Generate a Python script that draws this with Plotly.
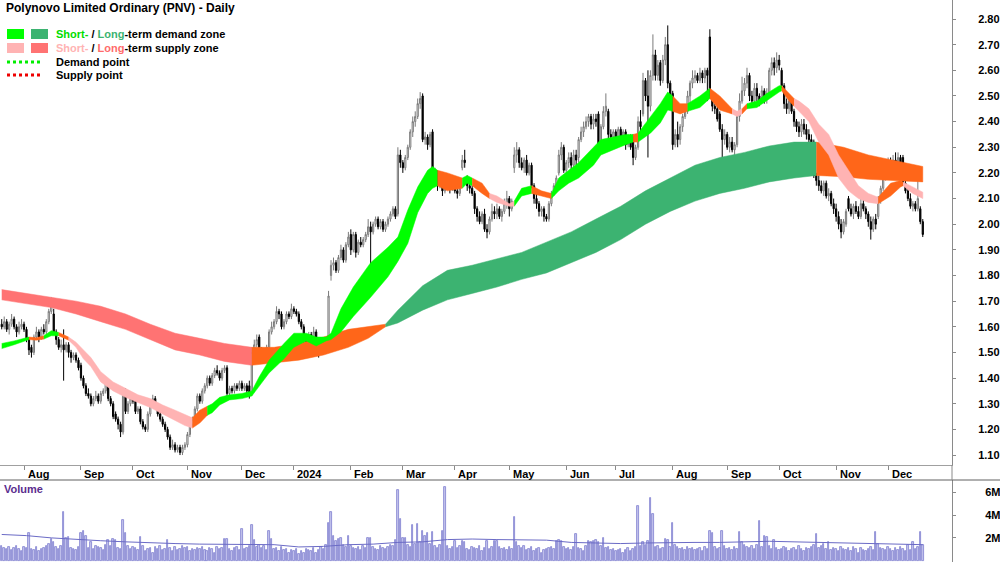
import plotly.graph_objects as go
import pandas as pd

# ---------------- data ----------------
start_date = "2023-07-19"

closes = [
1.60,1.62,1.59,1.61,1.63,1.60,1.58,1.60,1.61,1.59,
1.55,1.51,1.50,1.56,1.58,1.56,1.59,1.58,1.62,1.66,
1.69,1.58,1.55,1.52,1.53,1.51,1.53,1.50,1.48,1.49,
1.47,1.44,1.40,1.37,1.34,1.33,1.30,1.32,1.33,1.31,
1.34,1.35,1.38,1.32,1.30,1.25,1.24,1.22,1.19,1.33,
1.27,1.30,1.32,1.31,1.27,1.28,1.23,1.21,1.20,1.26,
1.30,1.32,1.29,1.26,1.24,1.22,1.20,1.17,1.13,1.14,
1.12,1.13,1.11,1.13,1.14,1.18,1.22,1.24,1.28,1.33,
1.31,1.35,1.37,1.40,1.38,1.41,1.43,1.42,1.40,1.43,
1.44,1.34,1.36,1.35,1.37,1.36,1.38,1.36,1.37,1.35,
1.33,1.50,1.53,1.55,1.51,1.48,1.50,1.52,1.58,1.60,
1.62,1.66,1.65,1.60,1.62,1.65,1.64,1.67,1.66,1.65,
1.62,1.60,1.55,1.53,1.57,1.55,1.58,1.52,1.50,1.53,
1.54,1.53,1.72,1.84,1.85,1.82,1.87,1.90,1.86,1.92,
1.95,1.90,1.96,1.89,1.93,1.92,1.94,1.96,1.99,1.97,
2.00,2.02,1.99,2.01,1.98,2.00,2.02,2.04,2.06,2.03,
2.27,2.24,2.22,2.26,2.30,2.36,2.40,2.42,2.47,2.49,
2.33,2.34,2.31,2.35,2.18,2.20,2.15,2.18,2.13,2.17,
2.15,2.14,2.16,2.13,2.12,2.14,2.25,2.24,2.15,2.14,
2.12,2.06,2.03,2.01,2.04,1.98,1.97,2.02,2.05,2.04,
2.06,2.03,2.05,2.08,2.10,2.06,2.09,2.27,2.29,2.24,
2.22,2.25,2.20,2.23,2.15,2.10,2.08,2.05,2.06,2.03,
2.02,2.08,2.12,2.15,2.18,2.27,2.30,2.21,2.24,2.26,
2.23,2.27,2.25,2.33,2.36,2.38,2.40,2.42,2.39,2.41,
2.40,2.31,2.38,2.44,2.46,2.35,2.34,2.36,2.33,2.37,
2.33,2.36,2.31,2.34,2.30,2.26,2.30,2.40,2.38,2.56,
2.50,2.46,2.58,2.66,2.58,2.62,2.56,2.64,2.70,2.55,
2.50,2.31,2.35,2.33,2.38,2.42,2.44,2.50,2.55,2.57,
2.58,2.56,2.59,2.57,2.60,2.58,2.50,2.46,2.45,2.41,
2.37,2.33,2.35,2.30,2.32,2.29,2.31,2.42,2.48,2.52,
2.55,2.58,2.50,2.48,2.53,2.50,2.48,2.52,2.49,2.51,
2.60,2.63,2.61,2.64,2.62,2.54,2.47,2.45,2.48,2.44,
2.40,2.38,2.36,2.39,2.37,2.35,2.33,2.31,2.19,2.17,
2.15,2.13,2.16,2.11,2.12,2.08,2.06,2.03,2.00,1.97,
2.01,2.05,2.06,2.04,2.07,2.05,2.03,2.08,2.06,2.04,
2.01,1.98,2.02,2.00,2.10,2.14,2.19,2.21,2.24,2.22,
2.25,2.23,2.26,2.24,2.16,2.13,2.10,2.07,2.08,2.06,2.10,2.01,1.96]

opens = [
1.61,1.60,1.62,1.59,1.61,1.63,1.60,1.58,1.60,1.61,
1.59,1.55,1.52,1.50,1.56,1.58,1.56,1.59,1.58,1.62,
1.66,1.65,1.58,1.55,1.52,1.53,1.51,1.53,1.50,1.48,
1.49,1.47,1.45,1.40,1.37,1.34,1.33,1.30,1.32,1.33,
1.31,1.34,1.35,1.38,1.32,1.30,1.26,1.24,1.22,1.19,
1.35,1.27,1.30,1.32,1.31,1.27,1.28,1.23,1.21,1.20,
1.26,1.30,1.32,1.29,1.26,1.24,1.22,1.20,1.17,1.13,
1.14,1.12,1.13,1.11,1.13,1.14,1.18,1.22,1.24,1.28,
1.33,1.31,1.35,1.37,1.40,1.38,1.41,1.43,1.42,1.40,
1.43,1.44,1.34,1.36,1.35,1.37,1.36,1.38,1.36,1.37,
1.37,1.34,1.50,1.53,1.56,1.51,1.48,1.50,1.52,1.58,
1.60,1.62,1.66,1.65,1.60,1.62,1.65,1.64,1.67,1.66,
1.65,1.62,1.60,1.55,1.53,1.57,1.55,1.58,1.53,1.50,
1.53,1.54,1.56,1.80,1.84,1.85,1.82,1.87,1.90,1.86,
1.92,1.96,1.90,1.96,1.89,1.93,1.92,1.94,1.96,1.99,
1.97,2.00,2.02,1.99,2.01,1.98,2.00,2.02,2.04,2.06,
2.04,2.27,2.24,2.22,2.26,2.30,2.36,2.40,2.42,2.47,
2.50,2.33,2.34,2.31,2.36,2.18,2.20,2.15,2.18,2.13,
2.17,2.15,2.14,2.16,2.13,2.12,2.22,2.25,2.18,2.15,
2.14,2.12,2.06,2.03,2.01,2.04,1.98,1.97,2.02,2.05,
2.04,2.06,2.03,2.05,2.08,2.10,2.06,2.22,2.27,2.29,
2.24,2.22,2.25,2.20,2.23,2.15,2.10,2.08,2.05,2.06,
2.03,2.02,2.08,2.12,2.15,2.20,2.27,2.30,2.21,2.24,
2.26,2.23,2.27,2.26,2.33,2.36,2.38,2.40,2.42,2.39,
2.41,2.43,2.31,2.38,2.44,2.44,2.35,2.34,2.36,2.33,
2.37,2.33,2.36,2.31,2.34,2.34,2.26,2.30,2.40,2.43,
2.56,2.50,2.46,2.58,2.66,2.58,2.63,2.56,2.64,2.70,
2.55,2.51,2.31,2.35,2.33,2.38,2.42,2.44,2.50,2.55,
2.57,2.58,2.56,2.59,2.57,2.60,2.73,2.50,2.46,2.45,
2.43,2.37,2.33,2.35,2.30,2.32,2.29,2.31,2.42,2.48,
2.52,2.55,2.58,2.50,2.48,2.53,2.50,2.48,2.52,2.49,
2.51,2.60,2.63,2.61,2.64,2.60,2.54,2.47,2.45,2.48,
2.44,2.40,2.38,2.36,2.39,2.37,2.35,2.33,2.32,2.19,
2.17,2.15,2.13,2.16,2.11,2.12,2.08,2.06,2.03,2.00,
1.97,2.00,2.10,2.06,2.04,2.07,2.05,2.03,2.08,2.06,
2.04,2.01,1.98,2.02,2.03,2.10,2.14,2.19,2.21,2.24,
2.22,2.25,2.23,2.26,2.26,2.16,2.13,2.10,2.07,2.08,2.06,2.06,2.01]

highs = [
1.63,1.64,1.63,1.62,1.65,1.64,1.61,1.62,1.63,1.62,
1.60,1.56,1.53,1.57,1.60,1.59,1.60,1.61,1.63,1.67,
1.715,1.67,1.59,1.56,1.55,1.59,1.54,1.54,1.51,1.50,
1.50,1.48,1.46,1.41,1.38,1.36,1.34,1.33,1.35,1.34,
1.35,1.36,1.39,1.39,1.33,1.31,1.27,1.25,1.23,1.34,
1.36,1.31,1.33,1.33,1.32,1.29,1.29,1.24,1.22,1.27,
1.31,1.335,1.33,1.30,1.27,1.25,1.23,1.21,1.18,1.16,
1.15,1.14,1.14,1.14,1.15,1.19,1.23,1.25,1.29,1.34,
1.34,1.36,1.38,1.41,1.41,1.42,1.44,1.45,1.43,1.44,
1.45,1.45,1.37,1.37,1.38,1.38,1.39,1.39,1.38,1.38,
1.39,1.52,1.55,1.57,1.57,1.52,1.51,1.53,1.59,1.62,
1.63,1.68,1.67,1.66,1.63,1.66,1.66,1.69,1.68,1.67,
1.66,1.63,1.61,1.56,1.58,1.58,1.60,1.59,1.54,1.54,
1.56,1.56,1.74,1.86,1.87,1.86,1.88,1.92,1.91,1.93,
1.97,1.98,1.97,1.97,1.94,1.95,1.95,1.97,2.02,2.01,
2.01,2.03,2.03,2.02,2.02,2.01,2.03,2.05,2.07,2.07,
2.30,2.29,2.25,2.27,2.31,2.37,2.42,2.44,2.49,2.515,
2.51,2.36,2.35,2.36,2.37,2.22,2.21,2.19,2.20,2.18,
2.18,2.17,2.17,2.17,2.14,2.15,2.27,2.29,2.19,2.16,
2.15,2.13,2.07,2.05,2.05,2.06,2.00,2.03,2.08,2.07,
2.08,2.07,2.06,2.10,2.13,2.11,2.10,2.30,2.32,2.30,
2.26,2.26,2.27,2.24,2.24,2.16,2.12,2.09,2.07,2.07,
2.04,2.09,2.13,2.16,2.19,2.29,2.32,2.31,2.25,2.28,
2.28,2.29,2.29,2.34,2.38,2.40,2.42,2.43,2.43,2.43,
2.43,2.44,2.39,2.46,2.51,2.45,2.37,2.37,2.37,2.38,
2.38,2.37,2.37,2.35,2.35,2.35,2.31,2.42,2.445,2.59,
2.57,2.60,2.60,2.74,2.68,2.64,2.64,2.66,2.73,2.775,
2.56,2.52,2.37,2.40,2.39,2.43,2.46,2.52,2.56,2.60,
2.60,2.59,2.61,2.60,2.61,2.61,2.76,2.51,2.47,2.46,
2.44,2.39,2.37,2.36,2.34,2.34,2.32,2.43,2.51,2.575,
2.57,2.61,2.59,2.52,2.55,2.55,2.51,2.54,2.53,2.53,
2.61,2.65,2.65,2.67,2.66,2.61,2.55,2.49,2.49,2.49,
2.45,2.41,2.40,2.41,2.41,2.39,2.37,2.35,2.33,2.20,
2.19,2.17,2.17,2.17,2.14,2.13,2.10,2.08,2.05,2.02,
2.02,2.06,2.11,2.08,2.08,2.09,2.07,2.10,2.10,2.07,
2.05,2.03,2.03,2.04,2.11,2.15,2.21,2.23,2.26,2.26,
2.27,2.28,2.28,2.27,2.27,2.17,2.15,2.12,2.09,2.09,2.21,2.07,2.02]

lows = [
1.59,1.59,1.58,1.57,1.60,1.59,1.56,1.57,1.59,1.58,
1.54,1.49,1.48,1.49,1.55,1.54,1.55,1.57,1.57,1.61,
1.65,1.57,1.53,1.51,1.50,1.39,1.50,1.48,1.46,1.47,
1.46,1.43,1.39,1.36,1.33,1.32,1.29,1.29,1.31,1.30,
1.30,1.33,1.34,1.31,1.29,1.24,1.23,1.20,1.17,1.18,
1.26,1.26,1.29,1.30,1.26,1.26,1.22,1.20,1.19,1.19,
1.25,1.29,1.28,1.25,1.23,1.21,1.19,1.16,1.12,1.12,
1.11,1.11,1.10,1.10,1.12,1.13,1.17,1.21,1.23,1.27,
1.30,1.30,1.34,1.36,1.37,1.37,1.40,1.41,1.39,1.39,
1.42,1.33,1.33,1.34,1.34,1.35,1.35,1.35,1.35,1.34,
1.32,1.33,1.49,1.52,1.50,1.46,1.47,1.49,1.51,1.57,
1.59,1.61,1.63,1.59,1.59,1.61,1.63,1.63,1.65,1.64,
1.61,1.59,1.52,1.52,1.52,1.54,1.54,1.51,1.48,1.49,
1.52,1.51,1.55,1.78,1.82,1.81,1.81,1.86,1.85,1.85,
1.91,1.88,1.89,1.87,1.88,1.91,1.91,1.93,1.95,1.82,
1.96,1.99,1.98,1.98,1.97,1.97,1.99,2.01,2.03,2.02,
2.03,2.22,2.20,2.21,2.25,2.29,2.34,2.38,2.41,2.45,
2.32,2.31,2.29,2.30,2.17,2.16,2.13,2.14,2.11,2.12,
2.14,2.12,2.13,2.12,2.10,2.11,2.21,2.22,2.13,2.12,
2.11,2.04,2.01,2.00,2.00,1.97,1.945,1.96,2.01,2.02,
2.02,2.02,2.01,2.04,2.06,2.03,2.05,2.20,2.24,2.22,
2.21,2.20,2.19,2.19,2.14,2.08,2.06,2.03,2.03,2.01,
2.01,2.01,2.07,2.11,2.14,2.19,2.25,2.20,2.20,2.22,
2.21,2.22,2.23,2.24,2.32,2.34,2.37,2.38,2.37,2.37,
2.38,2.27,2.30,2.37,2.42,2.33,2.32,2.32,2.32,2.32,
2.32,2.31,2.29,2.30,2.29,2.23,2.25,2.29,2.36,2.42,
2.48,2.26,2.44,2.56,2.56,2.56,2.54,2.55,2.62,2.53,
2.48,2.29,2.30,2.30,2.31,2.36,2.41,2.43,2.46,2.53,
2.55,2.55,2.55,2.55,2.55,2.48,2.49,2.44,2.43,2.40,
2.36,2.22,2.31,2.29,2.28,2.28,2.27,2.30,2.40,2.47,
2.50,2.53,2.48,2.46,2.47,2.48,2.46,2.47,2.47,2.47,
2.50,2.58,2.58,2.59,2.60,2.53,2.45,2.43,2.43,2.43,
2.38,2.36,2.34,2.34,2.35,2.33,2.32,2.29,2.18,2.15,
2.13,2.12,2.11,2.10,2.09,2.07,2.04,2.01,1.98,1.945,
1.96,1.99,2.05,2.03,2.02,2.04,2.02,2.02,2.05,2.02,
1.99,1.94,1.97,1.98,2.02,2.08,2.13,2.17,2.20,2.20,
2.21,2.21,2.22,2.22,2.15,2.12,2.09,2.06,2.05,2.05,2.05,2.00,1.95]

volume_m = [
1.3,1.1,1.0,1.2,0.9,1.1,1.3,1.0,0.8,1.2,
1.1,2.4,1.0,0.9,1.2,0.8,1.0,1.1,1.3,1.5,
1.9,1.6,1.2,1.0,1.3,4.3,2.0,2.1,1.1,1.0,
0.9,1.2,2.4,2.6,2.2,1.1,1.6,1.0,1.3,1.2,
1.1,0.9,1.4,1.8,1.3,1.9,1.8,1.1,1.0,3.6,
2.4,1.3,1.0,1.2,1.1,0.9,2.1,1.3,0.8,1.0,
1.1,0.7,1.2,1.0,1.3,0.9,1.0,1.8,1.1,0.8,
1.2,0.9,1.0,1.3,1.1,1.2,0.8,1.0,0.9,1.1,
1.0,1.2,0.9,0.8,1.1,1.0,0.7,1.2,1.0,1.1,
1.9,1.9,1.0,0.8,1.1,1.2,0.9,2.8,1.0,1.1,
1.3,3.1,1.8,1.2,1.4,1.1,1.3,0.9,2.6,1.9,
1.0,1.1,0.8,1.2,0.9,1.0,0.7,0.9,0.8,1.0,
0.6,0.8,0.7,1.0,0.9,0.8,1.1,0.7,0.9,1.2,
1.0,1.4,3.3,4.3,2.2,1.7,1.9,2.0,1.4,1.2,
2.2,1.3,1.1,1.0,1.2,0.9,1.3,1.1,2.0,2.0,
1.2,1.0,0.9,1.3,1.1,1.0,1.2,1.4,1.3,1.8,
6.2,3.7,2.0,2.0,1.4,1.2,3.1,1.5,3.2,1.6,
2.6,2.2,2.4,1.5,2.5,1.3,1.1,1.4,2.6,6.5,
1.3,1.0,1.2,1.7,1.1,1.3,1.7,1.6,1.0,0.9,
1.2,1.1,1.0,1.3,0.8,1.1,1.7,1.0,1.2,1.7,
1.7,1.2,1.0,1.1,0.9,1.2,1.0,3.8,1.6,1.3,
1.1,1.3,0.9,1.0,1.2,0.8,1.0,1.1,0.7,0.9,
1.0,1.1,1.2,1.0,1.7,1.8,1.7,1.2,1.0,1.1,
0.9,1.2,2.3,1.1,1.0,0.8,1.3,1.7,1.6,1.7,
1.8,1.6,1.3,2.0,1.1,1.2,0.9,1.0,0.8,0.9,
1.0,0.7,0.9,1.1,0.8,1.0,1.2,4.8,1.3,1.6,
1.4,1.7,5.5,4.1,1.2,1.3,1.0,1.1,1.9,1.8,
1.2,3.3,1.4,1.2,1.0,1.1,0.9,1.2,1.0,1.1,
0.9,1.0,1.1,0.8,1.2,1.0,2.6,2.4,1.2,1.0,
1.1,2.6,1.3,1.0,1.1,0.9,1.2,1.0,2.5,1.6,
1.4,1.2,1.1,1.3,1.0,1.4,3.5,1.2,2.2,2.1,
1.3,1.0,1.8,1.1,0.9,1.0,1.2,1.1,0.8,1.0,
1.1,0.9,1.3,1.0,0.8,1.1,1.0,1.2,1.4,2.3,
1.1,1.3,1.5,1.0,1.6,0.9,1.1,1.0,0.8,1.2,
1.0,0.9,1.1,0.8,1.2,1.0,0.7,1.1,0.9,0.8,
1.0,1.2,0.9,2.5,1.5,1.1,1.0,0.9,1.2,1.0,
0.8,1.1,0.9,1.2,1.0,0.8,1.4,0.9,1.6,1.0,1.2,2.5,1.4]

# volume average line (read at sampled days)
vol_avg_idx = [0,10,20,30,40,50,60,70,80,90,100,110,120,130,140,150,160,170,180,190,
               200,210,220,230,240,250,260,270,280,290,300,310,320,330,340,350,360,372]
vol_avg_m = [2.3,2.2,2.0,1.85,1.75,1.65,1.55,1.5,1.45,1.45,1.45,1.4,1.2,1.25,1.4,1.45,1.6,1.65,1.85,1.9,
             1.85,1.85,1.8,1.6,1.55,1.5,1.55,1.6,1.6,1.6,1.65,1.7,1.65,1.6,1.5,1.5,1.45,1.4]

# short-term zone: sample day, upper, lower, state (G demand / P supply / O neutral)
st_idx = [0,5,11,14,17,20,23,27,30,33,
          36,40,45,50,55,60,65,70,74,77,
          80,83,85,88,92,97,101,104,108,114,
          118,123,127,131,133,137,142,149,156,160,
          164,168,172,174,176,180,186,188,190,194,
          197,200,205,207,210,214,218,222,225,229,
          233,239,242,247,252,255,257,262,266,269,
          271,274,277,282,286,290,295,297,299,301,
          305,309,314,315,318,320,322,326,330,334,
          338,342,346,350,354,359,363,364,368,372]
st_upper = [1.535,1.545,1.56,1.557,1.565,1.585,1.578,1.56,1.54,1.51,
            1.48,1.425,1.385,1.36,1.335,1.32,1.295,1.275,1.258,1.245,
            1.275,1.29,1.30,1.325,1.335,1.34,1.35,1.405,1.47,1.535,
            1.575,1.575,1.56,1.56,1.575,1.67,1.755,1.85,1.91,1.95,
            2.055,2.145,2.21,2.225,2.21,2.20,2.18,2.19,2.18,2.16,
            2.12,2.11,2.08,2.09,2.14,2.15,2.13,2.12,2.18,2.21,
            2.24,2.30,2.33,2.34,2.35,2.35,2.355,2.42,2.47,2.515,
            2.50,2.47,2.47,2.50,2.53,2.50,2.45,2.44,2.45,2.47,
            2.48,2.51,2.54,2.54,2.51,2.49,2.48,2.45,2.39,2.35,
            2.27,2.21,2.15,2.12,2.105,2.16,2.17,2.165,2.145,2.125]
st_lower = [1.515,1.53,1.55,1.548,1.552,1.565,1.565,1.548,1.52,1.475,
            1.445,1.385,1.35,1.325,1.305,1.285,1.26,1.235,1.215,1.205,
            1.225,1.255,1.265,1.295,1.315,1.32,1.33,1.37,1.42,1.475,
            1.52,1.545,1.525,1.545,1.55,1.58,1.64,1.715,1.795,1.855,
            1.925,2.045,2.12,2.14,2.15,2.13,2.14,2.16,2.15,2.12,
            2.10,2.085,2.07,2.07,2.11,2.12,2.11,2.10,2.13,2.16,
            2.18,2.23,2.27,2.29,2.31,2.32,2.32,2.355,2.395,2.445,
            2.44,2.43,2.44,2.455,2.49,2.445,2.43,2.42,2.43,2.45,
            2.455,2.48,2.515,2.52,2.48,2.46,2.44,2.40,2.32,2.27,
            2.18,2.13,2.10,2.085,2.08,2.11,2.145,2.15,2.12,2.10]
st_state = ["G","G","O","O","G","G","O","P","P","P",
            "P","P","P","P","P","P","P","P","P","O",
            "O","G","G","G","G","G","G","G","G","G",
            "G","G","G","G","G","G","G","G","G","G",
            "G","G","G","G","O","O","G","G","O","O",
            "P","P","P","G","G","O","O","G","G","G",
            "G","G","G","G","G","O","G","G","G","G",
            "O","O","G","G","O","O","P","P","O","G",
            "G","G","G","O","O","P","P","P","P","P",
            "P","P","P","P","O","O","O","P","P","P"]

# long-term zone: sample day, upper, lower, state (D demand / S supply / O neutral)
lt_idx = [0,10,20,30,40,50,60,70,80,90,101,110,120,130,140,148,155,160,170,180,190,200,210,220,230,
          240,250,260,270,280,290,300,310,320,329,340,350,360,372]
lt_upper = [1.745,1.73,1.715,1.70,1.68,1.65,1.61,1.575,1.555,1.535,1.52,1.52,1.535,1.56,1.59,1.60,1.61,1.665,1.76,
            1.82,1.84,1.865,1.89,1.93,1.97,2.02,2.07,2.13,2.18,2.23,2.26,2.28,2.305,2.32,2.32,2.30,2.27,2.25,2.225]
lt_lower = [1.705,1.69,1.675,1.65,1.62,1.59,1.55,1.51,1.49,1.465,1.45,1.46,1.47,1.49,1.52,1.555,1.60,1.615,1.665,
            1.705,1.73,1.755,1.785,1.81,1.85,1.89,1.94,2.00,2.05,2.09,2.12,2.14,2.165,2.18,2.19,2.185,2.175,2.17,2.165]
lt_state = ["S","S","S","S","S","S","S","S","S","S","O","O","O","O","O","O","D","D","D",
            "D","D","D","D","D","D","D","D","D","D","D","D","D","D","D","O","O","O","O","O"]

month_starts = ["2023-08-01","2023-09-01","2023-10-01","2023-11-01","2023-12-01","2024-01-01","2024-02-01",
                "2024-03-01","2024-04-01","2024-05-01","2024-06-01","2024-07-01","2024-08-01","2024-09-01",
                "2024-10-01","2024-11-01","2024-12-01"]
month_labels = ["Aug","Sep","Oct","Nov","Dec","2024","Feb","Mar","Apr","May","Jun","Jul","Aug","Sep",
                "Oct","Nov","Dec"]
price_ticks = [1.10,1.20,1.30,1.40,1.50,1.60,1.70,1.80,1.90,2.00,2.10,2.20,2.30,2.40,2.50,2.60,2.70,2.80]
vol_ticks = [2,4,6]
vol_tick_labels = ["2M","4M","6M"]

# ---------------- styling / layout ----------------
FONT = "Liberation Sans Narrow, Arial Narrow, Liberation Sans, Arial, sans-serif"
H = 562
PLOT_W = 952
ST_COL = {"G": "#00ff00", "P": "#ffb3b3", "O": "#ff6619"}
LT_COL = {"D": "#3cb371", "S": "#ff7373", "O": "#ff6619"}

def py(p):
    return 1 - p / H

def pxx(p):
    return p / PLOT_W

N = len(closes)
dates = pd.bdate_range(start_date, periods=N)
xi = list(range(N))

fig = go.Figure()

def add_zone(idx, up, lo, state, cmap):
    start = 0
    n = len(idx)
    for k in range(1, n + 1):
        if k == n or state[k] != state[start]:
            end = min(k, n - 1)
            xs = idx[start:end + 1]
            u = up[start:end + 1]
            l = lo[start:end + 1]
            col = cmap[state[start]]
            fig.add_trace(go.Scatter(
                x=xs + xs[::-1], y=u + l[::-1], fill="toself", fillcolor=col,
                mode="lines", line=dict(color=col, width=0.5), hoverinfo="skip",
                showlegend=False, xaxis="x", yaxis="y"))
            start = k

add_zone(lt_idx, lt_upper, lt_lower, lt_state, LT_COL)
add_zone(st_idx, st_upper, st_lower, st_state, ST_COL)

fig.add_trace(go.Candlestick(
    x=xi, open=opens, high=highs, low=lows, close=closes,
    increasing=dict(line=dict(color="#7a7a7a", width=1), fillcolor="white"),
    decreasing=dict(line=dict(color="black", width=1), fillcolor="black"),
    whiskerwidth=0, showlegend=False, xaxis="x", yaxis="y",
    text=[d.strftime("%d %b %Y") for d in dates], hoverinfo="text+y"))

fig.add_trace(go.Bar(x=xi, y=volume_m, width=0.6,
                     marker=dict(color="#c4c4ec", line=dict(color="#7f7fcf", width=0.8)),
                     showlegend=False, xaxis="x2", yaxis="y2", hoverinfo="skip"))
fig.add_trace(go.Scatter(x=vol_avg_idx, y=vol_avg_m, mode="lines", line=dict(color="#6b6bc6", width=1),
                         showlegend=False, xaxis="x2", yaxis="y2", hoverinfo="skip"))

month_idx = [int(dates.searchsorted(pd.Timestamp(m))) for m in month_starts]

xr = [-0.7, 383.8]
price_top_px, price_bot_px = 0, 465
vol_top_px = 480
y_per_px = 0.1 / 25.65
p_top = 2.80 + (19 - price_top_px) * y_per_px
p_bot = 2.80 - (price_bot_px - 19) * y_per_px
v_per_px = 2 / 23.5
v_top = (563.5 - vol_top_px) * v_per_px
v_bot = (563.5 - H) * v_per_px * -1

fig.update_layout(
    width=1000, height=H, margin=dict(l=0, r=48, t=0, b=0),
    paper_bgcolor="white", plot_bgcolor="white",
    font=dict(family=FONT, size=11, color="black"),
    showlegend=False, bargap=0,
    xaxis=dict(domain=[0, 1], range=xr, anchor="y", showgrid=False, zeroline=False,
               tickvals=month_idx, ticktext=[""] * len(month_idx), ticks="outside", ticklen=4,
               tickcolor="#8a8a8a", showline=True, linecolor="#a0a0a0", linewidth=1,
               rangeslider=dict(visible=False), fixedrange=True),
    yaxis=dict(domain=[py(price_bot_px), 1], range=[p_bot, p_top], side="right", anchor="x",
               showgrid=False, zeroline=False, tickvals=price_ticks,
               ticktext=[f"{v:.2f}" for v in price_ticks], ticks="outside", ticklen=3,
               tickcolor="#8a8a8a", showline=True, linecolor="#8a8a8a", linewidth=1,
               tickfont=dict(family=FONT, size=11, color="black", weight="bold"),
               ticklabelstandoff=20),
    xaxis2=dict(domain=[0, 1], range=xr, anchor="y2", showgrid=False, zeroline=False,
                showticklabels=False, ticks="", matches="x"),
    yaxis2=dict(domain=[0, py(vol_top_px)], range=[v_bot, v_top], side="right", anchor="x2",
                showgrid=False, zeroline=False, tickvals=vol_ticks, ticktext=vol_tick_labels,
                ticks="outside", ticklen=3, tickcolor="#8a8a8a", showline=True,
                linecolor="#8a8a8a", linewidth=1,
                tickfont=dict(family=FONT, size=11, color="black", weight="bold"),
                ticklabelstandoff=27),
)

shapes = []
shapes.append(dict(type="line", xref="paper", yref="paper", x0=0, x1=1000 / PLOT_W,
                   y0=py(vol_top_px), y1=py(vol_top_px), line=dict(color="#606060", width=1)))
shapes.append(dict(type="line", xref="paper", yref="paper", x0=1, x1=1,
                   y0=py(price_bot_px), y1=py(vol_top_px), line=dict(color="#8a8a8a", width=1)))
shapes.append(dict(type="rect", xref="paper", yref="paper", x0=pxx(7), x1=pxx(24), y0=py(39), y1=py(29),
                   fillcolor=ST_COL["G"], line=dict(width=0)))
shapes.append(dict(type="rect", xref="paper", yref="paper", x0=pxx(31), x1=pxx(48), y0=py(39), y1=py(29),
                   fillcolor=LT_COL["D"], line=dict(width=0)))
shapes.append(dict(type="rect", xref="paper", yref="paper", x0=pxx(7), x1=pxx(24), y0=py(53), y1=py(43),
                   fillcolor=ST_COL["P"], line=dict(width=0)))
shapes.append(dict(type="rect", xref="paper", yref="paper", x0=pxx(31), x1=pxx(48), y0=py(53), y1=py(43),
                   fillcolor=LT_COL["S"], line=dict(width=0)))
shapes.append(dict(type="line", xref="paper", yref="paper", x0=pxx(7), x1=pxx(43), y0=py(62), y1=py(62),
                   line=dict(color="#00ee00", width=3, dash="dot")))
shapes.append(dict(type="line", xref="paper", yref="paper", x0=pxx(7), x1=pxx(43), y0=py(75), y1=py(75),
                   line=dict(color="#ee0000", width=3, dash="dot")))
fig.update_layout(shapes=shapes)

ann = []
ann.append(dict(xref="paper", yref="paper", x=pxx(4), y=py(8), xanchor="left", yanchor="middle",
                text="<b>Polynovo Limited Ordinary (PNV) - Daily</b>", showarrow=False,
                font=dict(family=FONT, size=12, color="black")))
legend_rows = [
    (34, "<b><span style='color:#00dd00'>Short-</span> / <span style='color:#3cb371'>Long</span>-term demand zone</b>"),
    (48, "<b><span style='color:#ffb3b3'>Short-</span> / <span style='color:#ff6b6b'>Long</span>-term supply zone</b>"),
    (62, "<b>Demand point</b>"),
    (75, "<b>Supply point</b>"),
]
for yy, t in legend_rows:
    ann.append(dict(xref="paper", yref="paper", x=pxx(54), y=py(yy), xanchor="left", yanchor="middle",
                    text=t, showarrow=False, font=dict(family=FONT, size=11, color="black")))
for mi, ml in zip(month_idx, month_labels):
    ann.append(dict(xref="x", yref="paper", x=mi + 0.6, y=py(474), xanchor="left", yanchor="middle",
                    text=f"<b>{ml}</b>", showarrow=False, font=dict(family=FONT, size=11, color="black")))
ann.append(dict(xref="paper", yref="paper", x=pxx(2), y=py(489), xanchor="left", yanchor="middle",
                text="<b>Volume</b>", showarrow=False, font=dict(family=FONT, size=11, color="#5b2d8e")))
fig.update_layout(annotations=ann)

fig.write_html("out.html")
